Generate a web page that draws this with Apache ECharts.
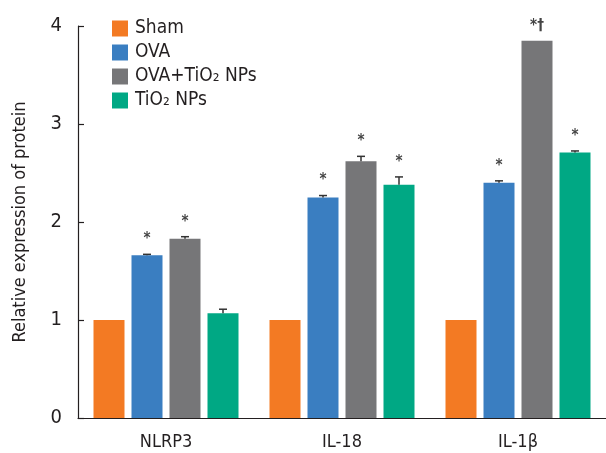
<!DOCTYPE html>
<html>
<head>
<meta charset="utf-8">
<script src="https://cdn.jsdelivr.net/npm/echarts@6/dist/echarts.min.js"></script>
<style>html,body{margin:0;padding:0;background:#fff;}#c{width:606px;height:453px;}</style>
</head>
<body>
<div id="c"></div>
<script>
const categories = ['NLRP3', 'IL-18', 'IL-1\u03b2'];
const seriesNames = ['Sham', 'OVA', 'OVA+TiO\u2082 NPs', 'TiO\u2082 NPs'];
const shamValues = [1, 1, 1];
const ovaValues = [1.66, 2.25, 2.40];
const ovaTiO2Values = [1.83, 2.62, 3.85];
const tio2Values = [1.07, 2.38, 2.71];
const shamErrors = [0, 0, 0];
const ovaErrors = [0.01, 0.02, 0.02];
const ovaTiO2Errors = [0.02, 0.05, 0];
const tio2Errors = [0.04, 0.08, 0.015];
const shamMarks = ['', '', ''];
const ovaMarks = ['*', '*', '*'];
const ovaTiO2Marks = ['*', '*', '*\u2020'];
const tio2Marks = ['', '*', '*'];
const yTicks = [0, 1, 2, 3, 4];

const colors = ['#F37A23', '#3A7EC1', '#767678', '#00A884'];
const FONT = '"Liberation Sans Narrow", "DejaVu Sans Condensed", "Liberation Sans", sans-serif';
const BAR_W = 31, BAR_GAP = 7;

const valueSets = [shamValues, ovaValues, ovaTiO2Values, tio2Values];
const errorSets = [shamErrors, ovaErrors, ovaTiO2Errors, tio2Errors];
const markSets = [shamMarks, ovaMarks, ovaTiO2Marks, tio2Marks];

const chart = echarts.init(document.getElementById('c'), null, {renderer: 'canvas'});

const barSeries = seriesNames.map((name, i) => ({
  name: name,
  type: 'bar',
  data: valueSets[i],
  barWidth: BAR_W,
  barGap: (BAR_GAP / BAR_W * 100) + '%',
  itemStyle: {color: colors[i]},
  silent: true
}));

const errSeries = seriesNames.map((name, i) => ({
  type: 'custom',
  name: name + ' err',
  z: 5,
  silent: true,
  data: categories.map((c, j) => [j, valueSets[i][j], errorSets[i][j]]),
  renderItem: function (params, api) {
    const idx = api.value(0);
    const val = api.value(1);
    const err = api.value(2);
    const mark = markSets[i][idx];
    const base = api.coord([idx, val]);
    const top = api.coord([idx, val + err]);
    const offset = (i - 1.5) * (BAR_W + BAR_GAP);
    const x = base[0] + offset;
    const children = [];
    if (err > 0) {
      children.push({type: 'line', shape: {x1: x, y1: base[1], x2: x, y2: top[1]}, style: {stroke: '#333', lineWidth: 1.5}});
      children.push({type: 'line', shape: {x1: x - 4, y1: top[1], x2: x + 4, y2: top[1]}, style: {stroke: '#333', lineWidth: 1.5}});
    }
    if (mark) {
      children.push({type: 'text', x: x, y: top[1] - 15, style: {text: mark, fill: '#444', font: 'bold 15px ' + FONT, textAlign: 'center', textVerticalAlign: 'middle'}});
    }
    return {type: 'group', children: children};
  }
}));

chart.setOption({
  animation: false,
  backgroundColor: '#fff',
  grid: {left: 78, top: 26, width: 530, height: 392, containLabel: false},
  legend: {
    data: seriesNames,
    orient: 'vertical',
    left: 112,
    top: 19,
    padding: 0,
    itemWidth: 16,
    itemHeight: 16,
    itemGap: 5,
    icon: 'rect',
    textStyle: {fontFamily: FONT, fontSize: 19, color: '#231F20', padding: [0, 0, 0, 2]}
  },
  xAxis: {
    type: 'category',
    data: categories,
    axisLine: {show: true, lineStyle: {color: '#231F20', width: 1.2}},
    axisTick: {show: false},
    axisLabel: {fontFamily: FONT, fontSize: 18, color: '#231F20', margin: 15},
    splitLine: {show: false}
  },
  yAxis: {
    type: 'value',
    min: yTicks[0],
    max: yTicks[yTicks.length - 1],
    interval: 1,
    name: 'Relative expression of protein',
    nameLocation: 'middle',
    nameRotate: 90,
    nameGap: 49,
    nameTextStyle: {fontFamily: FONT, fontSize: 18, color: '#231F20'},
    axisLine: {show: true, lineStyle: {color: '#231F20', width: 1.2}},
    axisTick: {show: true, inside: true, length: 6, lineStyle: {color: '#231F20', width: 1.2}},
    axisLabel: {fontFamily: FONT, fontSize: 20, color: '#231F20', margin: 16},
    splitLine: {show: false}
  },
  series: barSeries.concat(errSeries)
});
</script>
</body>
</html>
